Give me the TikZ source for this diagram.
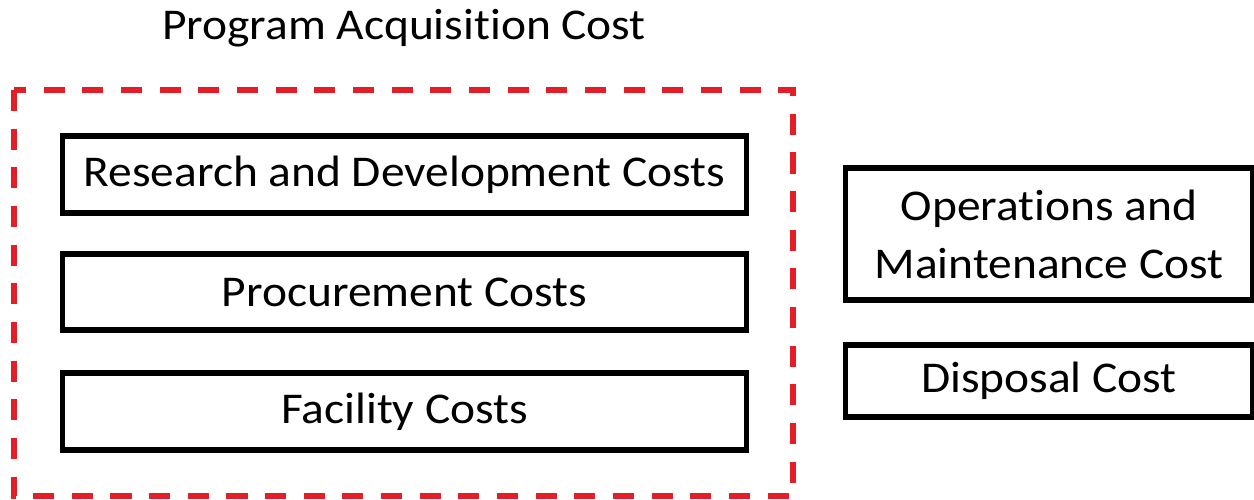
\documentclass[tikz,border=0pt]{standalone}
\usepackage{fontspec}
\setmainfont{Carlito}[Ligatures=NoCommon, FakeStretch=1.08]
\usepackage{xcolor}
\usetikzlibrary{positioning}

\definecolor{acqred}{RGB}{228,30,38}

\begin{document}
\begin{tikzpicture}[
    x=0.02cm, y=-0.02cm,
    costbox/.style={draw, line width=2.9pt, align=center, inner sep=0pt,
        font=\fontsize{25}{33}\selectfont},
    groupline/.style={draw=acqred, line width=3pt, dash pattern=on 12pt off 10pt}
]
\useasboundingbox (0,0) rectangle (1254,500);

% Acquisition group
\node[costbox, minimum width=13.7cm, minimum height=1.54cm] (rnd) at (404.5,174.5) {Research and Development Costs};
\node[costbox, minimum width=13.7cm, minimum height=1.52cm] (proc) at (404.5,292) {Procurement Costs};
\node[costbox, minimum width=13.7cm, minimum height=1.54cm] (facil) at (404.5,411.5) {Facility Costs};

% Other costs (right)
\node[costbox, minimum width=8.16cm, minimum height=2.64cm] (ops) at (1049,234) {Operations and\\Maintenance Cost};
\node[costbox, minimum width=8.16cm, minimum height=1.44cm] (disp) at (1049,381) {Disposal Cost};

% Dashed frame and its title
\draw[groupline] (14,90) rectangle (793,496);
\node[font=\fontsize{25}{30}\selectfont] (title) at (404,28) {Program Acquisition Cost};
\end{tikzpicture}
\end{document}
